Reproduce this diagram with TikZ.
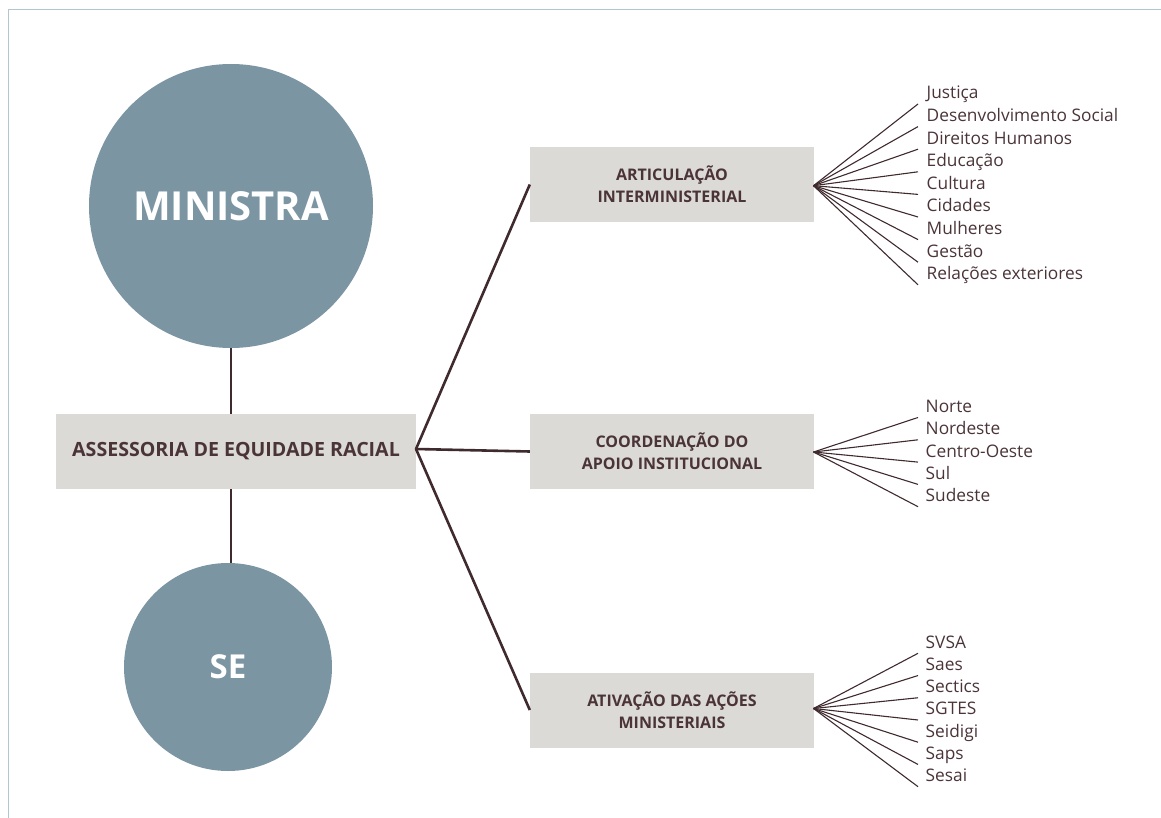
\documentclass[tikz,border=0pt]{standalone}
\usepackage{fontspec}
\setmainfont{Open Sans}
\IfFontExistsTF{Open Sans SemiBold}{\newfontfamily\semib{Open Sans SemiBold}}{\newcommand\semib{\bfseries}}
\definecolor{circ}{HTML}{7B95A3}
\definecolor{boxc}{HTML}{DCDAD6}
\definecolor{linec}{HTML}{3F2A2E}
\definecolor{txtc}{HTML}{4A3438}
\definecolor{framec}{HTML}{B3C6D0}
\begin{document}
\begin{tikzpicture}[x=1pt,y=-1pt,
  bigcirc/.style={circle,fill=circ,inner sep=0pt,text=white,font=\bfseries},
  mainbox/.style={fill=boxc,inner sep=0pt,text=txtc,font=\semib\fontsize{19.6}{22}\selectfont,align=center},
  subbox/.style={fill=boxc,inner sep=0pt,minimum width=284pt,minimum height=75pt,text=txtc,font=\semib\fontsize{16}{22}\selectfont,align=center},
  conn/.style={draw=linec,line width=2.6pt},
  fan/.style={draw=linec,line width=1.1pt},
  leaf/.style={anchor=base west,inner sep=0pt,text=txtc,font=\fontsize{17.3}{20}\selectfont}]
\useasboundingbox (0,0) rectangle (1161,818);
\draw[framec,line width=1.5pt] (1161,9.5) -- (8.5,9.5) -- (8.5,818);
% circles
\node[bigcirc,minimum size=284pt,font=\bfseries\fontsize{40}{44}\selectfont] (min) at (231,206) {MINISTRA};
\node[bigcirc,minimum size=208pt,font=\bfseries\fontsize{33}{40}\selectfont] (se) at (228,667) {SE};
% main box
\node[mainbox,minimum width=360pt,minimum height=75pt] (aer) at (236,451.5) {ASSESSORIA DE EQUIDADE RACIAL};
\draw[conn] (min.south) -- (min.south |- aer.north);
\draw[conn] (min.south |- aer.south) -- (min.south |- se.north);
% sub boxes
\node[subbox] (b1) at (672,184.5) {ARTICULAÇÃO\\INTERMINISTERIAL};
\node[subbox] (b2) at (672,451.5) {COORDENAÇÃO DO\\APOIO INSTITUCIONAL};
\node[subbox] (b3) at (672,710) {ATIVAÇÃO DAS AÇÕES\\MINISTERIAIS};
\coordinate (hub) at (416,449);
\draw[conn,line join=bevel] (b1.west) -- (hub) -- (b3.west);
\draw[conn] (hub) -- (b2.west);
\coordinate (h1) at (813.5,185.7);
\coordinate (h2) at (813.5,452);
\coordinate (h3) at (813.5,708.5);
% leaves box1
\foreach \t [count=\i] in {Justiça,Desenvolvimento Social,Direitos Humanos,Educação,Cultura,Cidades,Mulheres,Gestão,Relações exteriores}{
  \node[leaf] (a\i) at (926.5,{99+22.6*(\i-1)}) {\t};
  \draw[fan] (h1) -- ([xshift=-8.5pt,yshift=-5pt]a\i.base west);
}
\foreach \t [count=\i] in {Norte,Nordeste,Centro-Oeste,Sul,Sudeste}{
  \node[leaf] (c\i) at (925.5,{412.5+22.3*(\i-1)}) {\t};
  \draw[fan] (h2) -- ([xshift=-7.5pt,yshift=-5pt]c\i.base west);
}
\foreach \t [count=\i] in {SVSA,Saes,Sectics,SGTES,Seidigi,Saps,Sesai}{
  \node[leaf] (d\i) at (925.5,{648.3+22.23*(\i-1)}) {\t};
  \draw[fan] (h3) -- ([xshift=-7.5pt,yshift=-5pt]d\i.base west);
}
\end{tikzpicture}
\end{document}
